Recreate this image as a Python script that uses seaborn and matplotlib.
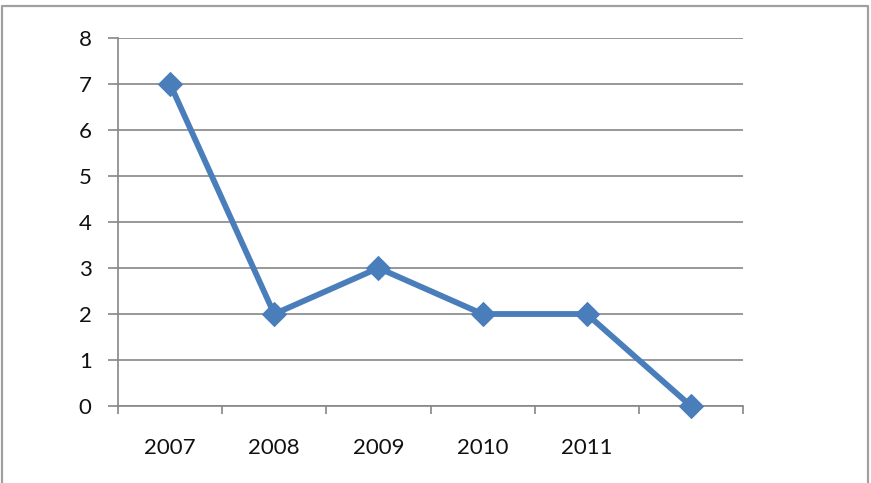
import matplotlib
matplotlib.use("Agg")
import matplotlib.pyplot as plt
import seaborn as sns
import pandas as pd
from matplotlib.ticker import FixedLocator
from matplotlib.lines import Line2D

categories = ["2007", "2008", "2009", "2010", "2011", ""]
values = [7, 2, 3, 2, 2, 0]
yticks = [0, 1, 2, 3, 4, 5, 6, 7, 8]

sns.set_style("white")
plt.rcParams['font.family'] = ['Lato', 'DejaVu Sans']

df = pd.DataFrame({"pos": range(len(categories)), "value": values})

fig = plt.figure(figsize=(8.71, 4.83), dpi=100)
ax = fig.add_axes([118/871, 1 - 406/483, (743-118)/871, (406-38)/483])

sns.lineplot(data=df, x="pos", y="value", ax=ax, color="#4A7EBB", linewidth=4.2,
             marker="D", markersize=12, markeredgecolor="#4A7EBB", zorder=3, clip_on=False)

ax.set_xlim(-0.5, len(categories) - 0.5)
ax.set_ylim(0, 8)
ax.set_yticks(yticks)
ax.set_yticklabels([str(t) for t in yticks], fontsize=16, color="#111111")
ax.set_xticks(range(len(categories)))
ax.set_xticklabels(categories, fontsize=16, color="#111111")
ax.xaxis.set_minor_locator(FixedLocator([i - 0.5 for i in range(len(categories) + 1)]))
ax.tick_params(axis="x", which="major", length=0, pad=23)
ax.tick_params(axis="x", which="minor", length=6, color="#868686", width=1.2, bottom=True)
ax.tick_params(axis="y", which="major", length=7, color="#868686", width=1.2, left=True, pad=12)
ax.set_xlabel("")
ax.set_ylabel("")
ax.grid(axis="y", color="#868686", linewidth=1.2)
ax.grid(axis="x", visible=False)
ax.set_axisbelow(True)
for s in ["top", "right"]:
    ax.spines[s].set_visible(False)
for s in ["left", "bottom"]:
    ax.spines[s].set_color("#868686")
    ax.spines[s].set_linewidth(1.2)

W, H = 871, 483
xl, xr, yt = 1.5 / W, 867.5 / W, 1 - 6 / H
fig.lines.append(Line2D([xl, xl, xr, xr], [0, yt, yt, 0], transform=fig.transFigure,
                        color="#a0a0a0", linewidth=1.6))

fig.savefig("out.png", dpi=100)
